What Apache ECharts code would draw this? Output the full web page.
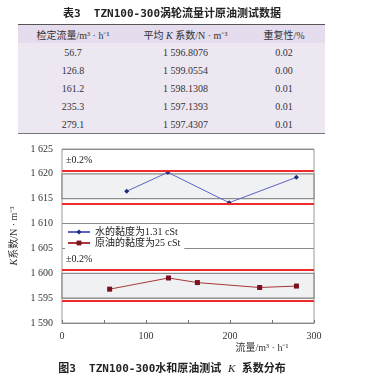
<!DOCTYPE html>
<html><head><meta charset="utf-8">
<script src="https://cdn.jsdelivr.net/npm/echarts@6/dist/echarts.min.js"></script>
<style>
body{margin:0;width:384px;height:378px;background:#fff;overflow:hidden;position:relative;font-family:'Liberation Serif','Noto Sans CJK SC',serif;}
#chart{position:absolute;left:0;top:0;width:384px;height:378px;}
.cap{position:absolute;left:0;width:344px;text-align:center;font-size:11px;font-weight:bold;color:#222;font-family:'DejaVu Sans Mono','Noto Sans CJK SC',monospace;white-space:pre;}
table{position:absolute;left:18px;top:24px;width:307px;border-collapse:collapse;font-size:10px;color:#333;background:#ede7f2;}
th{font-weight:normal;height:18px;padding:0;background:#e5dcee;border-top:1.5px solid #555;}
td{height:18px;padding:0;text-align:center;}
tr:last-child td{border-bottom:1px solid #777;}
i{font-style:italic;}
</style></head>
<body>
<div id="chart"></div>
<div class="cap" style="top:4px;">表3  TZN100-300涡轮流量计原油测试数据</div>
<table id="tbl"></table>
<div class="cap" style="top:359px;">图3  TZN100-300水和原油测试 <i style="font-family:'Liberation Serif';font-weight:normal">K</i> 系数分布</div>
<script>
// ---- data ----
const tableHeaders = ['检定流量/m³ · h⁻¹', '平均 <i>K</i> 系数/N · m⁻³', '重复性/%'];
const oilFlow = [56.7, 126.8, 161.2, 235.3, 279.1];
const oilK = [1596.8076, 1599.0554, 1598.1308, 1597.1393, 1597.4307];
const oilRepeat = ['0.02', '0.00', '0.01', '0.01', '0.01'];
const waterFlow = [77, 126, 199, 279];
const waterK = [1616.5, 1620.3, 1614.2, 1619.3];
const waterLimits = [1620.7, 1613.9];
const oilLimits = [1600.7, 1594.4];
const waterBand = [1615, 1620];
const oilBand = [1595, 1600];
const seriesNames = ['水的黏度为1.31 cSt', '原油的黏度为25 cSt'];
const bandLabel = '±0.2%';

function fmtK(v, d) {
  const s = v.toFixed(d);
  const [ip, fp] = s.split('.');
  const ipS = ip.length > 3 ? ip.slice(0, ip.length - 3) + ' ' + ip.slice(-3) : ip;
  return fp ? ipS + '.' + fp : ipS;
}

// table
const tbl = document.getElementById('tbl');
let html = '<tr>' + tableHeaders.map((h, i) => `<th style="width:${[110,115,82][i]}px">${h}</th>`).join('') + '</tr>';
oilFlow.forEach((f, i) => {
  html += `<tr><td>${f.toFixed(1)}</td><td>${fmtK(oilK[i], 4)}</td><td>${oilRepeat[i]}</td></tr>`;
});
tbl.innerHTML = html;

const chart = echarts.init(document.getElementById('chart'));
const fontFam = "'Liberation Serif','Noto Sans CJK SC',serif";
const redLine = {color: '#ef2b2b', width: 2, type: 'solid'};
const bandStyle = {color: '#f0f1f3', borderColor: '#8c8c8c', borderWidth: 1.3};
function mk(limits) {
  return {
    silent: true, symbol: 'none', lineStyle: redLine,
    data: [
      {yAxis: limits[0], label: {show: true, formatter: bandLabel, position: 'insideStartTop', distance: [4, 5], color: '#222', fontSize: 10, fontFamily: fontFam}},
      {yAxis: limits[1], label: {show: false}}
    ]
  };
}
chart.setOption({
  animation: false,
  grid: {left: 62, top: 149, width: 252, height: 174, show: true, borderColor: '#9a9a9a', borderWidth: 1},
  legend: {
    orient: 'vertical', left: 65, top: 225, itemGap: 1, itemWidth: 22, itemHeight: 6,
    backgroundColor: '#fff', padding: [2, 4, 2, 2],
    textStyle: {fontSize: 10, fontFamily: fontFam, color: '#222'},
    data: seriesNames
  },
  xAxis: {
    type: 'value', min: 0, max: 300, interval: 50,
    axisLine: {lineStyle: {color: '#888'}},
    axisTick: {inside: true, length: 3, lineStyle: {color: '#777'}},
    splitLine: {show: false},
    axisLabel: {fontSize: 10, fontFamily: fontFam, color: '#333', formatter: v => v % 100 === 0 ? v : ''},
    name: '流量/m³ · h⁻¹', nameLocation: 'middle', nameGap: 20,
    nameTextStyle: {fontSize: 10, fontFamily: fontFam, color: '#333', padding: [0, 0, 0, 148]}
  },
  yAxis: {
    type: 'value', min: 1590, max: 1625, interval: 5,
    axisLine: {show: false}, axisTick: {show: false},
    splitLine: {lineStyle: {color: '#8a8a8a', width: 1}},
    axisLabel: {fontSize: 10, fontFamily: fontFam, color: '#333', margin: 9, formatter: v => fmtK(v, 0)},
    name: '{k|K}系数/N · m⁻³', nameLocation: 'middle', nameGap: 42, nameRotate: 90,
    nameTextStyle: {fontSize: 10, fontFamily: fontFam, color: '#333', rich: {k: {fontStyle: 'italic', fontSize: 10, fontFamily: fontFam, color: '#333'}}}
  },
  series: [
    {
      name: seriesNames[0], type: 'line',
      data: waterFlow.map((x, i) => [x, waterK[i]]),
      symbol: 'diamond', symbolSize: 5,
      lineStyle: {color: '#5d63c4', width: 1},
      itemStyle: {color: '#1e2a7a'},
      markLine: mk(waterLimits),
      markArea: {silent: true, itemStyle: bandStyle, data: [[{yAxis: waterBand[0]}, {yAxis: waterBand[1]}]]}
    },
    {
      name: seriesNames[1], type: 'line',
      data: oilFlow.map((x, i) => [x, oilK[i]]),
      symbol: 'rect', symbolSize: 5,
      lineStyle: {color: '#a83838', width: 1},
      itemStyle: {color: '#7a1020'},
      markLine: mk(oilLimits),
      markArea: {silent: true, itemStyle: bandStyle, data: [[{yAxis: oilBand[0]}, {yAxis: oilBand[1]}]]}
    }
  ]
});
</script>
</body></html>
